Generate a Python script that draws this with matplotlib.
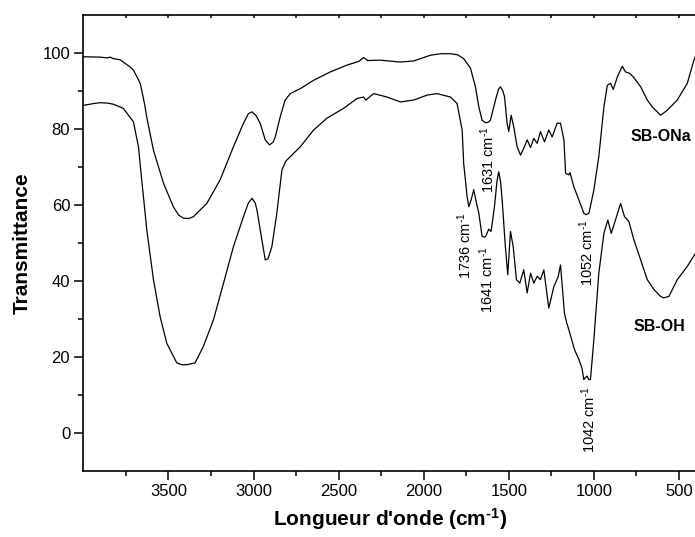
import matplotlib
matplotlib.use("Agg")
from matplotlib import pyplot as plt

plt.rcParams['font.family'] = ['Liberation Sans', 'DejaVu Sans']
plt.rcParams['mathtext.fontset'] = 'custom'
plt.rcParams['mathtext.rm'] = 'Liberation Sans'
plt.rcParams['mathtext.bf'] = 'Liberation Sans:bold'
plt.rcParams['mathtext.it'] = 'Liberation Sans:italic'

# SB-ONa spectrum (upper curve), wavenumber (cm-1) / transmittance
wn_ona = [4000, 3902, 3860, 3842, 3823, 3784, 3765, 3725, 3706, 3686, 3666, 3657,
          3640, 3627, 3588, 3529, 3471, 3440, 3412, 3380, 3353, 3274, 3196, 3118,
          3059, 3030, 3009, 2985, 2961, 2931, 2906, 2885, 2872, 2843, 2815, 2784,
          2725, 2647, 2549, 2451, 2380, 2353, 2330, 2255, 2137, 2059, 2000, 1961,
          1900, 1843, 1800, 1765, 1725, 1696, 1676, 1657, 1637, 1620, 1608, 1578,
          1560, 1549, 1535, 1525, 1510, 1500, 1486, 1471, 1451, 1431, 1412, 1392,
          1372, 1353, 1333, 1314, 1290, 1265, 1245, 1216, 1196, 1176, 1166, 1147,
          1140, 1118, 1088, 1059, 1045, 1029, 1000, 971, 941, 921, 902, 886,
          862, 833, 814, 788, 765, 725, 686, 657, 637, 608, 590, 569,
          510, 451, 412, 400]
t_ona = [99.0, 98.9, 98.7, 98.9, 98.5, 98.2, 97.6, 96.3, 95.5, 93.8, 92.0, 90.2,
         86.5, 83.0, 74.4, 65.7, 59.5, 57.3, 56.5, 56.4, 56.9, 60.4, 66.6, 75.3,
         81.5, 84.0, 84.5, 83.5, 81.5, 77.1, 75.8, 76.5, 77.9, 83.2, 87.5, 89.3,
         90.6, 92.8, 95.0, 96.8, 97.8, 98.8, 98.0, 98.1, 97.6, 97.9, 98.8, 99.4,
         99.8, 99.8, 99.5, 98.5, 96.0, 91.1, 85.8, 82.3, 81.6, 81.8, 82.3, 87.6,
         90.5, 91.1, 90.0, 88.5, 81.5, 79.3, 83.6, 80.6, 75.3, 73.1, 74.9, 77.1,
         75.1, 77.5, 76.2, 79.3, 76.6, 79.7, 77.9, 81.5, 81.5, 77.1, 68.3, 67.9,
         68.5, 64.8, 61.3, 57.8, 57.4, 57.8, 63.9, 72.7, 85.8, 91.5, 92.0, 90.4,
         93.7, 96.5, 95.0, 94.6, 93.5, 91.1, 87.6, 85.8, 84.9, 83.6, 84.2, 84.9,
         87.6, 92.0, 98.1, 99.5]

# SB-OH spectrum (lower curve)
wn_oh = [4000, 3950, 3902, 3860, 3823, 3765, 3706, 3676, 3657, 3627, 3588, 3549,
         3510, 3451, 3420, 3392, 3343, 3294, 3235, 3176, 3118, 3059, 3030, 3009,
         2990, 2980, 2951, 2931, 2915, 2892, 2863, 2833, 2810, 2784, 2725, 2647,
         2569, 2471, 2392, 2353, 2340, 2294, 2216, 2137, 2059, 1980, 1922, 1843,
         1804, 1774, 1765, 1745, 1735, 1720, 1706, 1690, 1676, 1657, 1640, 1631,
         1618, 1604, 1584, 1570, 1559, 1548, 1539, 1520, 1506, 1490, 1474, 1455,
         1435, 1412, 1392, 1372, 1353, 1333, 1314, 1294, 1265, 1235, 1210, 1196,
         1173, 1160, 1147, 1114, 1088, 1070, 1059, 1050, 1039, 1030, 1020, 1000,
         971, 941, 918, 898, 873, 843, 820, 794, 765, 725, 686, 647,
         608, 590, 559, 510, 451, 402]
t_oh = [86.2, 86.6, 86.9, 86.8, 86.5, 85.4, 81.9, 75.3, 66.6, 53.4, 40.3, 30.6,
        23.6, 18.4, 17.9, 17.9, 18.4, 22.8, 29.8, 39.4, 49.0, 56.9, 60.5, 61.7,
        60.5, 58.7, 50.8, 45.5, 45.8, 49.0, 57.8, 69.2, 71.5, 72.7, 75.3, 79.7,
        82.8, 85.4, 88.0, 88.4, 87.6, 89.3, 88.4, 87.1, 87.6, 88.9, 89.3, 88.4,
        86.7, 79.7, 70.9, 62.2, 59.5, 61.5, 64.0, 60.5, 57.8, 51.7, 51.5, 52.1,
        53.6, 53.0, 59.5, 66.0, 68.7, 66.0, 61.3, 49.0, 41.6, 53.0, 49.0, 40.3,
        39.4, 42.9, 36.8, 42.0, 39.4, 41.2, 40.3, 42.9, 32.8, 38.5, 41.0, 44.2,
        31.5, 29.0, 27.1, 21.9, 19.3, 17.0, 14.0, 14.5, 14.9, 14.0, 14.0, 24.5,
        42.0, 52.5, 56.0, 52.5, 56.0, 60.4, 56.9, 55.6, 50.8, 45.5, 40.3, 37.7,
        35.9, 35.5, 35.9, 40.3, 43.8, 47.3]

# peak labels: (text, wavenumber, transmittance)
peak_labels = [("1736", 1761, 49.3), ("1631", 1625, 72.0), ("1641", 1631, 40.4),
               ("1052", 1043, 47.5), ("1042", 1028, 3.4)]

fig = plt.figure(figsize=(6.95, 5.37), dpi=100)
ax = fig.add_axes([0.1199, 0.1235, 0.8815, 0.8486])

ax.plot(wn_ona, t_ona, color='black', lw=0.9)
ax.plot(wn_oh, t_oh, color='black', lw=0.9)

# short hyphen (U+2010) in the superscript, like the original
for txt, x, y in peak_labels:
    ax.text(x, y, txt + ' cm$^{\u20101}$', rotation=90,
            ha='center', va='center', fontsize=10.5)

ax.text(784, 78.1, 'SB-ONa', fontsize=11.5, fontweight='bold', ha='left', va='center')
ax.text(767, 27.9, 'SB-OH', fontsize=11.5, fontweight='bold', ha='left', va='center')

ax.set_xlim(4000, 400)
ax.set_ylim(-10, 110)
ax.set_xticks([3500, 3000, 2500, 2000, 1500, 1000, 500])
ax.set_xticks([3750, 3250, 2750, 2250, 1750, 1250, 750], minor=True)
ax.set_yticks([0, 20, 40, 60, 80, 100])
ax.set_yticks([10, 30, 50, 70, 90], minor=True)

ax.tick_params(which='major', direction='out', length=6.5, width=1.1, labelsize=12, pad=3)
ax.tick_params(which='minor', direction='out', length=3.6, width=1.1)
ax.tick_params(axis='x', which='both', top=True)
for s in ax.spines.values():
    s.set_linewidth(1.2)
ax.spines['right'].set_visible(False)
# tiny inward marks on the top axis
for t in ax.xaxis.get_major_ticks() + ax.xaxis.get_minor_ticks():
    t.tick2line.set_marker(3)
    t.tick2line.set_markersize(2)

ax.set_xlabel("Longueur d'onde (cm$^{\\mathbf{\u20101}}$)", fontsize=15, fontweight='bold', labelpad=5)
ax.set_ylabel('Transmittance', fontsize=15, fontweight='bold', labelpad=8)

fig.savefig('out.png', dpi=100)
